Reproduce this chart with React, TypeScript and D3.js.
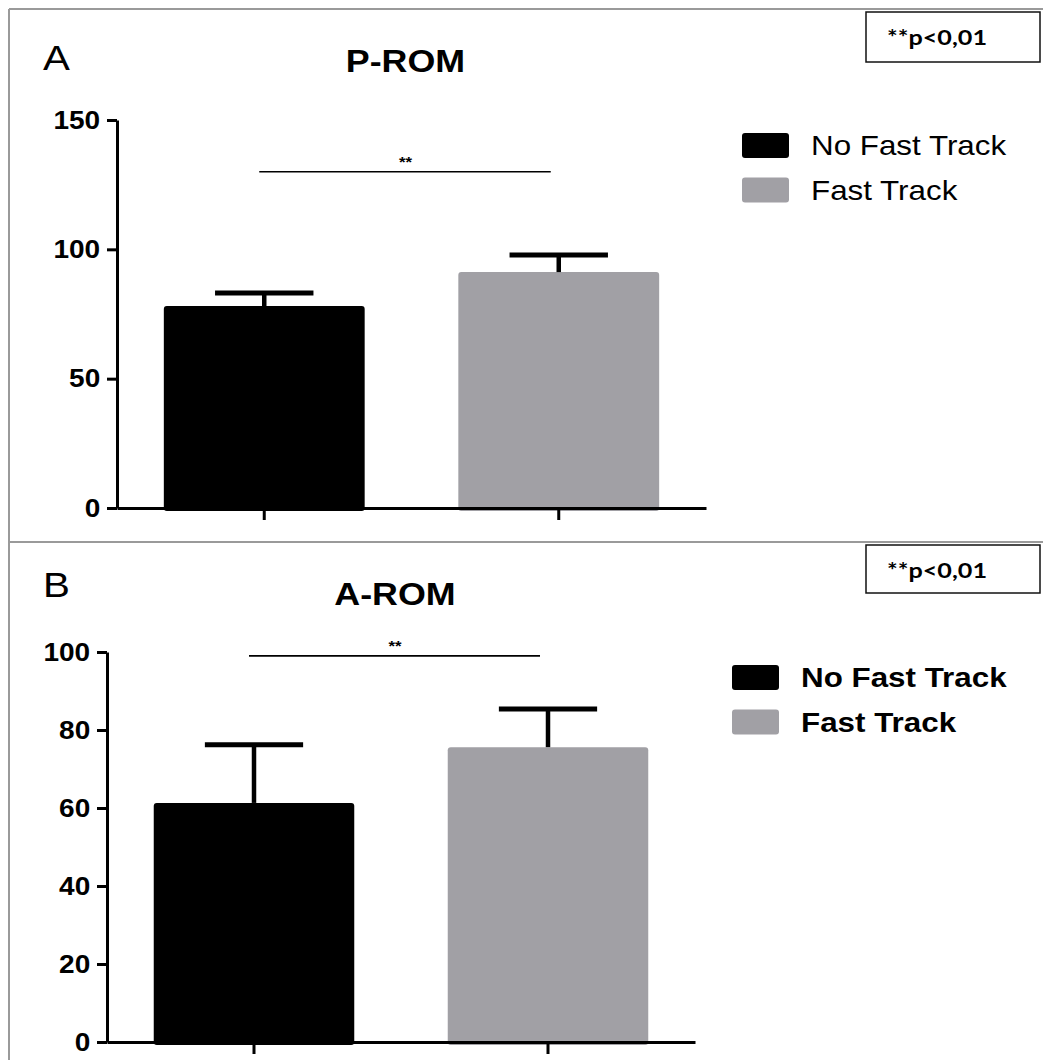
import React, { useEffect, useRef } from 'react';
import * as d3 from 'd3';

// groups and values
const groups = ['No Fast Track', 'Fast Track'];
const promMeans = [78.1, 91.2];
const promErrs = [5.0, 6.6];
const aromMeans = [61.3, 75.6];
const aromErrs = [14.9, 9.8];
const promTicks = [0, 50, 100, 150];
const aromTicks = [0, 20, 40, 60, 80, 100];
const promSig = 130;
const aromSig = 99;
const colors = ['#000000', '#a1a0a5'];

const W = 1043;
const H = 1060;
const SX = 1.12; // the figure is stretched horizontally
const FONT = '"Liberation Sans", Arial, sans-serif';

type Panel = {
  letter: string;
  title: string;
  means: number[];
  errs: number[];
  ticks: number[];
  sig: number;
  left: number;
  right: number;
  bottom: number;
  top: number;
  titleY: number;
  letterY: number;
  boxY: number;
  legendX: number;
  legendY: number;
  legendBold: boolean;
};

const panels: Panel[] = [
  {
    letter: 'A', title: 'P-ROM', means: promMeans, errs: promErrs, ticks: promTicks, sig: promSig,
    left: 117, right: 706, bottom: 508, top: 120, titleY: 72, letterY: 70, boxY: 12,
    legendX: 742, legendY: 133, legendBold: false,
  },
  {
    letter: 'B', title: 'A-ROM', means: aromMeans, errs: aromErrs, ticks: aromTicks, sig: aromSig,
    left: 107, right: 695, bottom: 1042, top: 652, titleY: 605, letterY: 597, boxY: 545,
    legendX: 732, legendY: 665, legendBold: true,
  },
];

const stretchedText = (g, x, y, txt, size, weight, anchor = 'start') =>
  g.append('text')
    .attr('transform', `translate(${x},${y}) scale(${SX},1)`)
    .attr('font-family', FONT)
    .attr('font-size', size)
    .attr('font-weight', weight)
    .attr('text-anchor', anchor)
    .attr('fill', '#000')
    .text(txt);

const App = () => {
  const svgRef = useRef(null);

  useEffect(() => {
    const svg = d3.select(svgRef.current);
    svg.selectAll('*').remove();

    svg.append('rect').attr('width', W).attr('height', H).attr('fill', '#fff');

    // frame lines
    svg.append('line').attr('x1', 9).attr('x2', W).attr('y1', 9).attr('y2', 9)
      .attr('stroke', '#9a9a9a').attr('stroke-width', 2);
    svg.append('line').attr('x1', 9).attr('x2', 9).attr('y1', 9).attr('y2', H)
      .attr('stroke', '#9a9a9a').attr('stroke-width', 2);
    svg.append('line').attr('x1', 9).attr('x2', W).attr('y1', 542).attr('y2', 542)
      .attr('stroke', '#9a9a9a').attr('stroke-width', 2);

    panels.forEach(p => {
      const g = svg.append('g');
      const maxV = p.ticks[p.ticks.length - 1];

      const x = d3.scaleBand()
        .domain(groups)
        .range([p.left, p.right])
        .paddingInner(0.318)
        .paddingOuter(0.159);

      const y = d3.scaleLinear()
        .domain([0, maxV])
        .range([p.bottom, p.top]);

      // bars
      g.append('g')
        .selectAll('rect')
        .data(groups)
        .join('rect')
          .attr('x', d => x(d))
          .attr('y', (d, i) => y(p.means[i]))
          .attr('width', x.bandwidth())
          .attr('height', (d, i) => y(0) - y(p.means[i]) + 3)
          .attr('rx', 3)
          .attr('fill', (d, i) => colors[i]);

      // upper error bars
      const capW = x.bandwidth() * 0.49;
      const eb = g.append('g').selectAll('g').data(groups).join('g');
      eb.append('line')
        .attr('x1', d => x(d) + x.bandwidth() / 2)
        .attr('x2', d => x(d) + x.bandwidth() / 2)
        .attr('y1', (d, i) => y(p.means[i]))
        .attr('y2', (d, i) => y(p.means[i] + p.errs[i]))
        .attr('stroke', '#000').attr('stroke-width', 4.5);
      eb.append('line')
        .attr('x1', d => x(d) + x.bandwidth() / 2 - capW / 2)
        .attr('x2', d => x(d) + x.bandwidth() / 2 + capW / 2)
        .attr('y1', (d, i) => y(p.means[i] + p.errs[i]))
        .attr('y2', (d, i) => y(p.means[i] + p.errs[i]))
        .attr('stroke', '#000').attr('stroke-width', 5);

      // x axis
      const xAxis = g.append('g')
        .attr('transform', `translate(0,${p.bottom})`)
        .call(d3.axisBottom(x).tickSize(12).tickSizeOuter(0).tickFormat(() => ''));
      xAxis.select('.domain').attr('stroke', '#000').attr('stroke-width', 3);
      xAxis.selectAll('.tick line').attr('stroke', '#000').attr('stroke-width', 3);

      // y axis
      const yAxis = g.append('g')
        .attr('transform', `translate(${p.left},0)`)
        .call(d3.axisLeft(y).tickValues(p.ticks).tickSize(10).tickSizeOuter(0).tickPadding(5));
      yAxis.select('.domain').attr('stroke', '#000').attr('stroke-width', 3);
      yAxis.selectAll('.tick line').attr('stroke', '#000').attr('stroke-width', 3);
      yAxis.selectAll('.tick text')
        .attr('fill', '#000')
        .attr('font-family', FONT)
        .attr('font-size', 25)
        .attr('font-weight', 'bold')
        .attr('transform', `scale(${SX},1)`);

      // significance bracket
      const c1 = x(groups[0]) + x.bandwidth() / 2;
      const c2 = x(groups[1]) + x.bandwidth() / 2;
      g.append('line')
        .attr('x1', c1 - 5).attr('x2', c2 - 8)
        .attr('y1', y(p.sig)).attr('y2', y(p.sig))
        .attr('stroke', '#000').attr('stroke-width', 1.6);
      stretchedText(g, (c1 + c2) / 2 - 6, y(p.sig) - 5, '**', 15, 'bold', 'middle');

      // letter and title
      stretchedText(g, 43, p.letterY, p.letter, 36, 'normal');
      stretchedText(g, (c1 + c2) / 2 - 6, p.titleY, p.title, 32, 'bold', 'middle');

      // p value box
      g.append('rect')
        .attr('x', 866).attr('y', p.boxY).attr('width', 174).attr('height', p.letter === 'A' ? 50 : 48)
        .attr('fill', '#fff').attr('stroke', '#111').attr('stroke-width', 1.5);
      g.append('text')
        .attr('x', 887).attr('y', p.boxY + 33)
        .attr('font-family', 'Lato, "Open Sans", sans-serif')
        .attr('font-size', 21)
        .attr('font-weight', 'bold')
        .attr('textLength', 100)
        .attr('lengthAdjust', 'spacingAndGlyphs')
        .text('**p<0,01');

      // legend
      groups.forEach((name, i) => {
        const ly = p.legendY + i * 44.5;
        g.append('rect')
          .attr('x', p.legendX).attr('y', ly)
          .attr('width', 47).attr('height', 25).attr('rx', 3)
          .attr('fill', colors[i]);
        stretchedText(g, p.legendX + 69, ly + 22, name, 28, p.legendBold ? 'bold' : 'normal');
      });
    });
  }, []);

  return (
    <svg
      ref={svgRef}
      width={W}
      height={H}
      viewBox={`0 0 ${W} ${H}`}
      style={{ position: 'absolute', left: 0, top: 0 }}
    />
  );
};

export default App;
